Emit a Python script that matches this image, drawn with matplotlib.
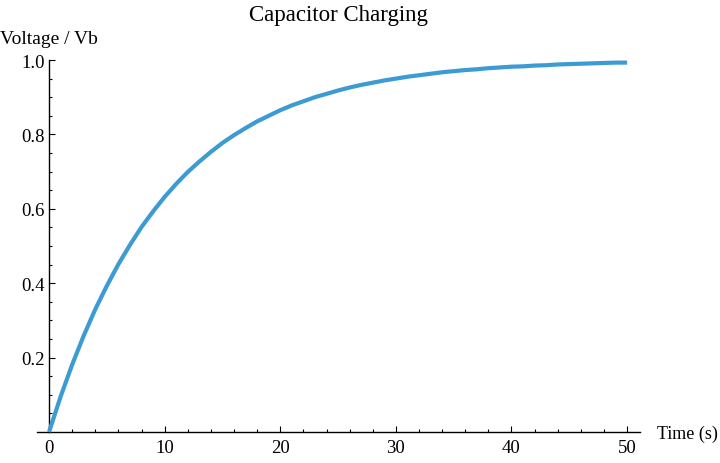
import matplotlib
matplotlib.use("Agg")
import matplotlib.pyplot as plt
from matplotlib.ticker import MultipleLocator, FixedLocator

time_s = list(range(0, 51))
voltage = [0.000, 0.095, 0.181, 0.259, 0.330, 0.393, 0.451, 0.503, 0.551, 0.593,
           0.632, 0.667, 0.699, 0.727, 0.753, 0.777, 0.798, 0.817, 0.835, 0.850,
           0.865, 0.878, 0.889, 0.900, 0.909, 0.918, 0.926, 0.933, 0.939, 0.945,
           0.950, 0.955, 0.959, 0.963, 0.967, 0.970, 0.973, 0.975, 0.978, 0.980,
           0.982, 0.983, 0.985, 0.986, 0.988, 0.989, 0.990, 0.991, 0.992, 0.993,
           0.993]
x_ticks = [0, 10, 20, 30, 40, 50]
y_ticks = [0.2, 0.4, 0.6, 0.8, 1.0]
y_tick_labels = ["0.2", "0.4", "0.6", "0.8", "1.0"]
title = "Capacitor Charging"
xlabel = "Time (s)"
ylabel = "Voltage / Vb"

plt.rcParams['font.family'] = ['Liberation Serif', 'DejaVu Serif']

fig = plt.figure(figsize=(7.2, 4.64), dpi=100)
ax = fig.add_axes([36.9/720, 31/464, 602.9/720, 372/464])
ax.plot(time_s, voltage, color='#3d9bd4', lw=3.0, clip_on=False, solid_capstyle='butt', zorder=3)
ax.set_xlim(-1.05, 51.1)
ax.set_ylim(0, 1.0)
for s in ['top', 'right']:
    ax.spines[s].set_visible(False)
ax.spines['left'].set_position(('data', 0))
ax.spines['bottom'].set_position(('data', 0))
ax.spines['left'].set_linewidth(1.0)
ax.spines['bottom'].set_linewidth(1.0)

ax.xaxis.set_major_locator(FixedLocator(x_ticks))
ax.xaxis.set_minor_locator(MultipleLocator(2))
ax.yaxis.set_major_locator(FixedLocator(y_ticks))
ax.set_yticklabels(y_tick_labels)
ax.yaxis.set_minor_locator(MultipleLocator(0.05))
ax.tick_params(which='both', direction='in', labelsize=13.5, width=0.8)
ax.tick_params(which='major', length=4)
ax.tick_params(which='minor', length=2.3)
ax.tick_params(axis='x', which='major', pad=5)
ax.tick_params(axis='y', which='major', pad=3)

fig.text(338/720, 1 - 15/464, title, ha='center', va='center', fontsize=16.5)
fig.text(0/720, 1 - 40/464, ylabel, ha='left', va='center', fontsize=14)
fig.text(657/720, 1 - 434/464, xlabel, ha='left', va='center', fontsize=13)

fig.savefig("out.png", dpi=100)
